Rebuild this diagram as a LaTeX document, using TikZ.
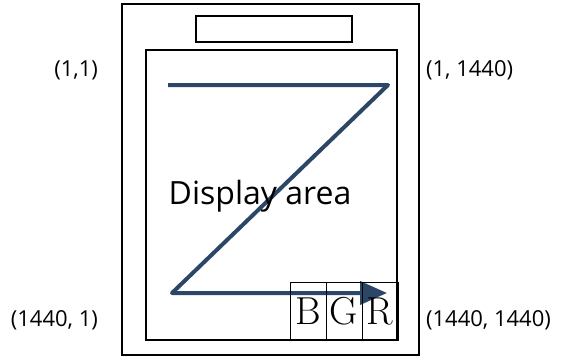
\documentclass[tikz,border=0pt]{standalone}
\usepackage{fontspec}
\setmainfont{Open Sans}
\newfontfamily\lmfont{Latin Modern Roman}
\usetikzlibrary{arrows.meta,positioning}

\begin{document}
\begin{tikzpicture}[x=1pt,y=-1pt,line width=1.5pt]
	\useasboundingbox (0,0) rectangle (565,356);
	\node[draw,minimum width=297pt,minimum height=351pt,anchor=north west] (phone) at (121,3) {};
	\node[draw,minimum width=156pt,minimum height=26pt,anchor=north west] (slot) at (195,15) {};
	\node[draw,minimum width=251pt,minimum height=290pt,anchor=north west] (disp) at (145,49) {};
	\coordinate (z1) at (168,85);
	\coordinate (z2) at (388,85);
	\coordinate (z3) at (172,293);
	\coordinate (z4) at (387,293);
	\draw[line width=4pt,color={rgb,255:red,44;green,70;blue,104},line join=round,-{Triangle[length=27pt,width=23pt]}] (z1) -- (z2) -- (z3) -- (z4);
	\foreach \c [count=\n] in {B,G,R}
		\node[draw,line width=0.8pt,minimum height=58pt,minimum width=36pt,inner sep=0pt,anchor=south west,font=\lmfont\fontsize{39}{39}\selectfont,xshift=(\n-4)*36pt] (P\n) at (disp.south east) {\c};
	\node[font=\fontsize{32}{36}\selectfont] (lbl) at (260,196) {Display area};
	\node[font=\fontsize{22}{26}\selectfont,anchor=east] (c11) at (102,70) {(1,1)};
	\node[font=\fontsize{22}{26}\selectfont,anchor=west] (c1n) at (422,70) {(1, 1440)};
	\node[font=\fontsize{22}{26}\selectfont,anchor=east] (cn1) at (102,320) {(1440, 1)};
	\node[font=\fontsize{22}{26}\selectfont,anchor=west] (cnn) at (422,320) {(1440, 1440)};
\end{tikzpicture}
\end{document}
